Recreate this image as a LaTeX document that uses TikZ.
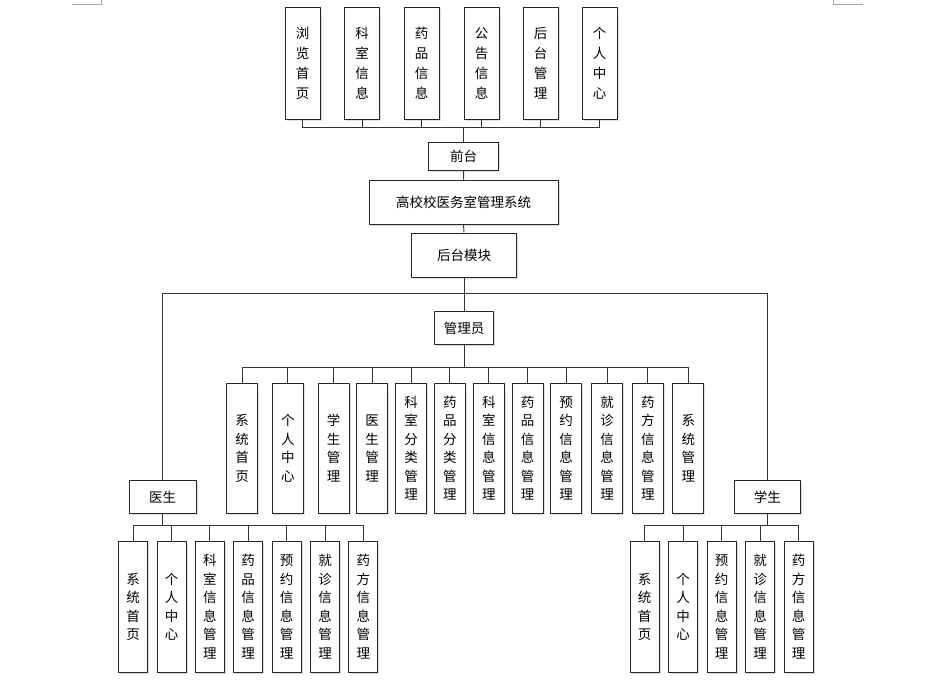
\documentclass[tikz,border=0pt]{standalone}
\usepackage{fontspec}
\newfontfamily\cjk{Noto Sans CJK SC}
\usetikzlibrary{shadows}
\begin{document}
\begin{tikzpicture}[x=1pt,y=-1pt,
  box/.style={draw=black!85, line width=0.9pt, fill=white, inner sep=0pt, align=center,
    font=\cjk\fontsize{13.5}{18.5}\selectfont,
    drop shadow={shadow xshift=1.6pt, shadow yshift=-1.6pt, fill={rgb,255:red,200;green,212;blue,228}, opacity=0.7}},
  topbox/.style={box, minimum width=35pt, minimum height=112pt, font=\cjk\fontsize{13.5}{20}\selectfont},
  abox/.style={box, minimum width=31pt, minimum height=130pt},
  dbox/.style={box, minimum width=29pt, minimum height=130.7pt},
  hbox/.style={box},
  conn/.style={draw=black!80, line width=0.9pt},
  cornermark/.style={draw=black!35, line width=0.8pt}
]
\useasboundingbox (0,0) rectangle (940,681);
\fill[white] (0,0) rectangle (940,681);
% corner marks
\coordinate (m1a) at (72,4.3); \coordinate (m1b) at (101,4.3); \coordinate (m1c) at (101,0);
\coordinate (m2a) at (862.7,4.3); \coordinate (m2b) at (833.3,4.3); \coordinate (m2c) at (833.3,0);
\draw[cornermark] (m1a) -- (m1b) -- (m1c);
\draw[cornermark] (m2a) -- (m2b) -- (m2c);

% top row
\node[topbox] (t1) at (302.5,63) {浏\\览\\首\\页};
\node[topbox] (t2) at (362,63) {科\\室\\信\\息};
\node[topbox] (t3) at (421.5,63) {药\\品\\信\\息};
\node[topbox] (t4) at (481.5,63) {公\\告\\信\\息};
\node[topbox] (t5) at (540.5,63) {后\\台\\管\\理};
\node[topbox] (t6) at (599.5,63) {个\\人\\中\\心};

\node[hbox, minimum width=70pt, minimum height=28pt] (qt) at (463.7,156) {前台};
\node[hbox, minimum width=189pt, minimum height=44pt] (sys) at (463.5,202) {高校校医务室管理系统};
\node[hbox, minimum width=104.3pt, minimum height=44.7pt] (ht) at (464,255.3) {后台模块};
\node[hbox, minimum width=59.7pt, minimum height=32.6pt] (gly) at (464,328) {管理员};
\node[hbox, minimum width=66.7pt, minimum height=33.3pt] (ys) at (162.7,497) {医生};
\node[hbox, minimum width=66.7pt, minimum height=33.3pt] (xs) at (767.3,497) {学生};

% admin boxes
\node[abox] (a1) at (242.2,448.3) {系\\统\\首\\页};
\node[abox] (a2) at (287.8,448.3) {个\\人\\中\\心};
\node[abox] (a3) at (333.5,448.3) {学\\生\\管\\理};
\node[abox] (a4) at (372.2,448.3) {医\\生\\管\\理};
\node[abox] (a5) at (411.2,448.3) {科\\室\\分\\类\\管\\理};
\node[abox] (a6) at (449.8,448.3) {药\\品\\分\\类\\管\\理};
\node[abox] (a7) at (488.8,448.3) {科\\室\\信\\息\\管\\理};
\node[abox] (a8) at (527.7,448.3) {药\\品\\信\\息\\管\\理};
\node[abox] (a9) at (566,448.3) {预\\约\\信\\息\\管\\理};
\node[abox] (a10) at (607,448.3) {就\\诊\\信\\息\\管\\理};
\node[abox] (a11) at (647.8,448.3) {药\\方\\信\\息\\管\\理};
\node[abox] (a12) at (688.3,448.3) {系\\统\\管\\理};

% doctor boxes
\node[dbox] (d1) at (133.2,606.7) {系\\统\\首\\页};
\node[dbox] (d2) at (171.5,606.7) {个\\人\\中\\心};
\node[dbox] (d3) at (209.8,606.7) {科\\室\\信\\息\\管\\理};
\node[dbox] (d4) at (248.2,606.7) {药\\品\\信\\息\\管\\理};
\node[dbox] (d5) at (286.5,606.7) {预\\约\\信\\息\\管\\理};
\node[dbox] (d6) at (325,606.7) {就\\诊\\信\\息\\管\\理};
\node[dbox] (d7) at (363.3,606.7) {药\\方\\信\\息\\管\\理};

% student boxes
\node[dbox] (s1) at (644.7,606.7) {系\\统\\首\\页};
\node[dbox] (s2) at (683.2,606.7) {个\\人\\中\\心};
\node[dbox] (s3) at (721.5,606.7) {预\\约\\信\\息\\管\\理};
\node[dbox] (s4) at (760,606.7) {就\\诊\\信\\息\\管\\理};
\node[dbox] (s5) at (798.5,606.7) {药\\方\\信\\息\\管\\理};

% bus coordinates
\coordinate (busT) at (0,127.5);
\coordinate (busM) at (0,293.5);
\coordinate (busA) at (0,367.3);
\coordinate (busD) at (0,525);

% connectors
\foreach \i in {1,...,6} \draw[conn] (qt.north) -- (qt.north |- busT) -| (t\i.south);
\draw[conn] (qt.south) -- (sys.north);
\draw[conn] (sys.south) -- (ht.north);
\draw[conn] (ht.south) -- (gly.north);
\draw[conn] (ys.north) -- (ys.north |- busM) -- (xs.north |- busM) -- (xs.north);
\foreach \i in {1,...,12} \draw[conn] (gly.south) -- (gly.south |- busA) -| (a\i.north);
\foreach \i in {1,...,7} \draw[conn] (ys.south) -- (ys.south |- busD) -| (d\i.north);
\foreach \i in {1,...,5} \draw[conn] (xs.south) -- (xs.south |- busD) -| (s\i.north);
\end{tikzpicture}
\end{document}
